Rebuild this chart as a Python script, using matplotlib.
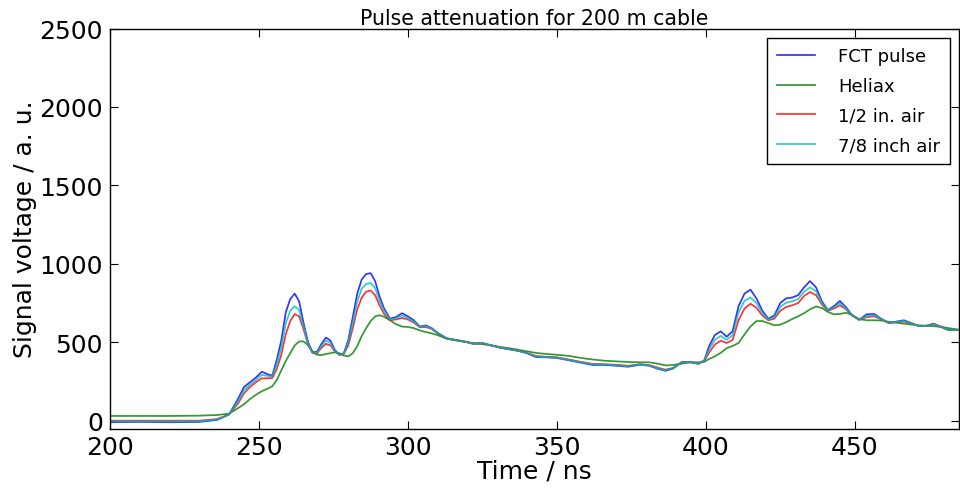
import matplotlib
matplotlib.use("Agg")
import matplotlib.pyplot as plt

# Sample times (ns)
time_ns = [
    200, 210, 220, 230, 236, 240, 243, 245, 247, 249, 251, 253, 254.5, 256, 257.5,
    259, 260.5, 262, 263.5, 265, 266.5, 268, 269.5, 271, 272.5, 274, 275.5, 277,
    278.5, 280, 281.5, 283, 284.5, 286, 287.5, 289, 290.5, 292, 294, 296, 298, 300,
    302, 304, 306, 308, 310, 313, 316, 319, 322, 325, 328, 331, 334, 337, 340, 343,
    346, 350, 354, 358, 362, 366, 370, 374, 378, 381, 384, 386.5, 389, 392, 395,
    397.5, 399.5, 401, 403, 405, 407, 409, 411, 413, 415, 417, 419, 421, 423, 425,
    427, 429, 431, 433, 435, 437, 439, 441, 443, 445, 447, 449, 451.5, 454, 456.5,
    459, 461.5, 464, 466.5, 469, 471.5, 474, 476.5, 479, 481.5, 485,
]

fct_pulse = [
    -10, -8, -10, -8, 5, 40, 140, 215, 245, 275, 312, 295, 288, 390, 510,
    690, 775, 810, 760, 620, 500, 435, 440, 490, 530, 510, 450, 420,
    430, 515, 660, 810, 900, 935, 940, 890, 790, 715, 650, 660, 685, 665,
    640, 600, 607, 590, 560, 525, 515, 505, 490, 495, 480, 465, 455, 445, 430, 405,
    404, 400, 385, 370, 355, 355, 350, 344, 357, 350, 330, 318, 332, 375, 373,
    362, 385, 470, 545, 570, 535, 570, 730, 810, 835, 780, 700, 650, 670, 750,
    780, 785, 800, 850, 890, 850, 760, 705, 730, 763, 725, 675, 643, 678, 680,
    648, 622, 632, 640, 622, 603, 605, 618, 598, 577, 578,
]

heliax = [
    30, 30, 30, 32, 36, 45, 80, 105, 138, 165, 188, 205, 220, 260, 320,
    380, 430, 480, 505, 505, 480, 440, 420, 418, 425, 430, 436, 430,
    415, 410, 430, 475, 540, 590, 635, 665, 672, 662, 640, 615, 600, 597,
    590, 575, 565, 556, 545, 522, 512, 502, 495, 488, 480, 470, 462, 452, 442, 432,
    426, 420, 413, 400, 390, 382, 378, 374, 372, 372, 363, 352, 355, 364, 372,
    372, 375, 392, 410, 432, 462, 476, 495, 550, 600, 635, 635, 622, 608, 612,
    628, 648, 665, 685, 710, 728, 718, 693, 678, 680, 688, 675, 647, 640, 640,
    638, 630, 624, 618, 613, 608, 605, 602, 598, 590, 580,
]

half_inch_air = [
    0, 0, 0, 0, 10, 40, 110, 175, 215, 245, 270, 270, 272, 330, 420,
    550, 635, 680, 665, 580, 485, 430, 428, 465, 490, 480, 440, 420,
    425, 480, 590, 710, 785, 822, 830, 800, 735, 680, 640, 645, 655, 645,
    625, 595, 597, 585, 555, 524, 514, 504, 490, 493, 480, 466, 456, 446, 432, 412,
    408, 404, 390, 375, 362, 360, 356, 350, 360, 354, 337, 325, 336, 370, 372,
    365, 380, 430, 485, 510, 495, 515, 640, 715, 745, 720, 670, 640, 650, 700,
    725, 735, 750, 795, 820, 800, 740, 700, 715, 735, 712, 670, 643, 660, 665,
    645, 622, 628, 632, 620, 604, 604, 614, 597, 578, 578,
]

seven_eighth_air = [
    -5, -5, -5, -4, 7, 40, 125, 195, 230, 260, 292, 285, 282, 360, 465,
    620, 700, 730, 705, 600, 490, 432, 434, 478, 510, 495, 445, 420,
    428, 500, 625, 760, 842, 872, 878, 845, 765, 700, 645, 652, 670, 655,
    632, 598, 602, 588, 558, 525, 515, 505, 490, 494, 480, 466, 456, 446, 431, 408,
    406, 402, 387, 372, 358, 357, 353, 347, 358, 352, 333, 321, 334, 373, 373,
    363, 383, 450, 515, 540, 515, 545, 690, 765, 785, 750, 685, 645, 660, 725,
    752, 760, 775, 822, 850, 825, 750, 703, 722, 750, 718, 672, 643, 668, 672,
    647, 622, 630, 636, 621, 603, 604, 616, 597, 577, 578,
]

series_labels = ["FCT pulse", "Heliax", "1/2 in. air", "7/8 inch air"]
x_ticks = [200, 250, 300, 350, 400, 450]
y_ticks = [0, 500, 1000, 1500, 2000, 2500]

plt.rcParams["font.family"] = ["DejaVu Sans"]

fig = plt.figure(figsize=(9.6, 4.89), dpi=100)
ax = fig.add_axes([110 / 960, (489 - 429.5) / 489, (959 - 110) / 960, (429.5 - 29.5) / 489])

colors = ["#0000ff", "#007f00", "#ff0000", "#00bfbf"]
for vals, lab, col in zip([fct_pulse, heliax, half_inch_air, seven_eighth_air], series_labels, colors):
    ax.plot(time_ns, vals, color=col, lw=1.25, alpha=0.8, label=lab)

ax.set_xlim(200, 485)
ax.set_ylim(-50, 2500)
ax.set_xticks(x_ticks)
ax.set_yticks(y_ticks)
ax.tick_params(direction="in", length=6, width=0.8, labelsize=18, top=True, right=True, pad=5)
for sp in ax.spines.values():
    sp.set_linewidth(1.0)

ax.set_xlabel("Time / ns", fontsize=18, labelpad=-1)
ax.set_ylabel("Signal voltage / a. u.", fontsize=18, labelpad=2)
ax.set_title("Pulse attenuation for 200 m cable", fontsize=14.8, pad=3)

leg = ax.legend(loc="upper right", fontsize=13, fancybox=False, framealpha=1,
                edgecolor="black", borderaxespad=0.5, handlelength=2.1,
                handletextpad=1.3, labelspacing=0.64, borderpad=0.55)
leg.get_frame().set_linewidth(1.0)

fig.savefig("out.png", dpi=100)
